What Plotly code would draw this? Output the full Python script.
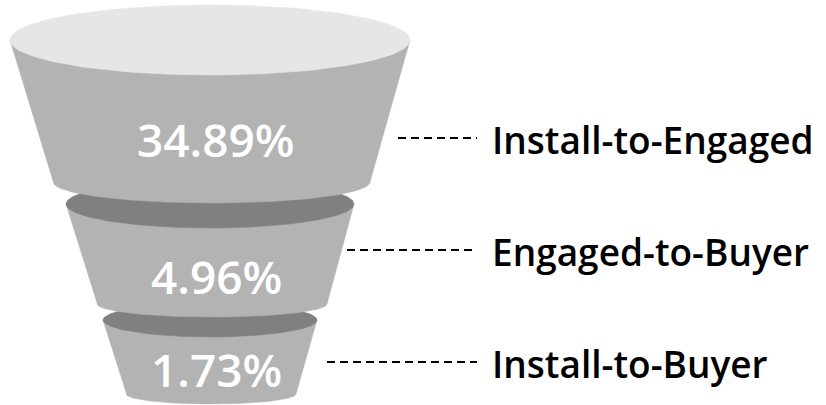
import numpy as np
import plotly.graph_objects as go

# ---- data ----
stages = ["Install-to-Engaged", "Engaged-to-Buyer", "Install-to-Buyer"]
rates = [34.89, 4.96, 1.73]

# ---- funnel geometry (pixel-like layout units, y grows downward) ----
top_cx = [210, 210, 210]
top_cy = [40, 204, 320]
top_rx = [200, 144, 107]
top_ry = [35, 24, 17]
bot_cx = [211.5, 212, 211]
bot_cy = [182, 304, 394]
bot_rx = [158.5, 115, 85]
bot_ry = [21, 13, 10]
cap_colors = ["#e6e6e6", "#808080", "#808080"]
body_color = "#b3b3b3"
pct_x = [216, 216, 216]
pct_y = [139, 276, 369]
leader_x0 = [398, 347, 327]
leader_x1 = [477, 477, 477]
leader_y = [138, 250, 362]
label_x = 490
label_y = [139, 251, 363]

fig = go.Figure()

t = np.linspace(0, np.pi, 80)
tf = np.linspace(0, 2 * np.pi, 160)

for i in reversed(range(len(stages))):
    # body
    xs = [top_cx[i] - top_rx[i], bot_cx[i] - bot_rx[i]]
    ys = [top_cy[i], bot_cy[i]]
    xs += list(bot_cx[i] - bot_rx[i] * np.cos(t))
    ys += list(bot_cy[i] + bot_ry[i] * np.sin(t))
    xs += [bot_cx[i] + bot_rx[i], top_cx[i] + top_rx[i], top_cx[i] - top_rx[i]]
    ys += [bot_cy[i], top_cy[i], top_cy[i]]
    fig.add_trace(go.Scatter(x=xs, y=ys, mode="lines", fill="toself",
                             fillcolor=body_color,
                             line=dict(width=0.5, color=body_color),
                             hoverinfo="skip", showlegend=False))
    # cap
    fig.add_trace(go.Scatter(x=top_cx[i] + top_rx[i] * np.cos(tf),
                             y=top_cy[i] + top_ry[i] * np.sin(tf),
                             mode="lines", fill="toself",
                             fillcolor=cap_colors[i],
                             line=dict(width=0.5, color=cap_colors[i]),
                             hoverinfo="skip", showlegend=False))

# leader lines
for i in range(len(stages)):
    fig.add_trace(go.Scatter(x=[leader_x0[i], leader_x1[i]], y=[leader_y[i], leader_y[i]],
                             mode="lines", line=dict(color="black", width=2, dash="8px,5px"),
                             hoverinfo="skip", showlegend=False))

for i in range(len(stages)):
    fig.add_annotation(x=pct_x[i], y=pct_y[i], xref="x", yref="y",
                       text=f"{rates[i]:.2f}%", showarrow=False,
                       xanchor="center", yanchor="middle",
                       font=dict(family="Open Sans", size=46, color="white", weight=600))
    fig.add_annotation(x=label_x, y=label_y[i], xref="x", yref="y",
                       text=stages[i], showarrow=False,
                       xanchor="left", yanchor="middle",
                       font=dict(family="Open Sans", size=37, color="black", weight=600))

fig.update_layout(width=826, height=405, margin=dict(l=0, r=0, t=0, b=0),
                  paper_bgcolor="white", plot_bgcolor="white",
                  xaxis=dict(range=[0, 826], visible=False, fixedrange=True),
                  yaxis=dict(range=[405, 0], visible=False, fixedrange=True),
                  showlegend=False)

fig.write_html("out.html", config={"displayModeBar": False})
